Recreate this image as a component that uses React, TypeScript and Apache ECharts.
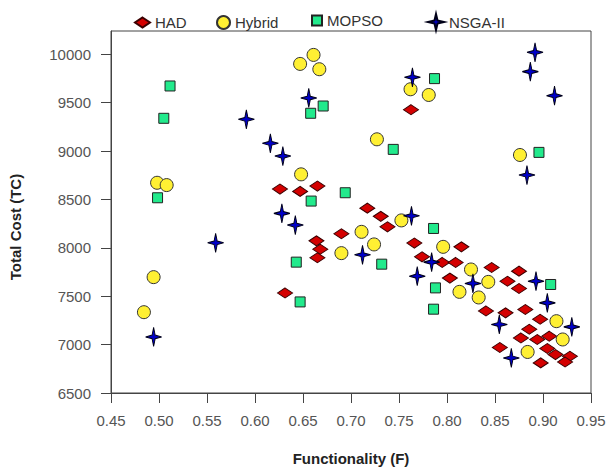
import React, { useEffect, useRef } from 'react';
import * as echarts from 'echarts';

const FONT = '"Liberation Sans", Arial, Helvetica, sans-serif';

const seriesNames = ['HAD', 'Hybrid', 'MOPSO', 'NSGA-II'];

// [Functionality F, Total Cost TC]
const hadPoints = [
  [0.7625, 9427], [0.626, 8607], [0.647, 8583], [0.665, 8638], [0.717, 8410],
  [0.731, 8325], [0.738, 8217], [0.664, 8072], [0.668, 7986], [0.665, 7897],
  [0.69, 8145], [0.6313, 7534], [0.766, 8049], [0.815, 8010], [0.774, 7907],
  [0.795, 7849], [0.809, 7849], [0.803, 7687], [0.8465, 7797], [0.875, 7759],
  [0.863, 7655], [0.875, 7580], [0.8406, 7348], [0.861, 7328], [0.8816, 7363],
  [0.897, 7262], [0.8857, 7159], [0.877, 7069], [0.894, 7053], [0.9065, 7087],
  [0.855, 6970], [0.9045, 6960], [0.913, 6897], [0.928, 6880], [0.923, 6821],
  [0.8976, 6811],
];

const hybridPoints = [
  [0.4843, 7335], [0.4944, 7697], [0.498, 8672], [0.508, 8648], [0.647, 9900],
  [0.661, 9993], [0.667, 9845], [0.648, 8759], [0.762, 9638], [0.781, 9579],
  [0.727, 9121], [0.876, 8959], [0.7525, 8283], [0.711, 8165], [0.724, 8035],
  [0.69, 7945], [0.796, 8010], [0.825, 7776], [0.843, 7648], [0.813, 7545],
  [0.833, 7487], [0.914, 7242], [0.9205, 7053], [0.884, 6924],
];

const mopsoPoints = [
  [0.5115, 9672], [0.505, 9338], [0.4985, 8517], [0.671, 9465], [0.658, 9390],
  [0.6585, 8483], [0.694, 8569], [0.787, 9748], [0.744, 9017], [0.8958, 8986],
  [0.786, 8200], [0.643, 7852], [0.732, 7831], [0.647, 7441], [0.788, 7586],
  [0.786, 7366], [0.908, 7621],
];

const nsgaPoints = [
  [0.4944, 7079], [0.559, 8052], [0.591, 9328], [0.616, 9080], [0.629, 8948],
  [0.656, 9548], [0.628, 8356], [0.642, 8235], [0.764, 9762], [0.8917, 10020],
  [0.8868, 9820], [0.912, 9572], [0.8833, 8752], [0.763, 8331], [0.712, 7928],
  [0.784, 7852], [0.769, 7707], [0.827, 7632], [0.8927, 7655], [0.9045, 7431],
  [0.8545, 7208], [0.93, 7183], [0.867, 6862],
];

const yTickValues = [6500, 7000, 7500, 8000, 8500, 9000, 9500, 10000];

const xTitle = 'Functionality (F)';
const yTitle = 'Total Cost (TC)';

const STAR = 'path://M10,0 L11.9,8.1 L20,10 L11.9,11.9 L10,20 L8.1,11.9 L0,10 L8.1,8.1 Z';

export default function App() {
  const ref = useRef<HTMLDivElement>(null);
  useEffect(() => {
    const chart = echarts.init(ref.current!, null, { renderer: 'svg' });
    const legendText = { fontSize: 15, color: '#333', fontFamily: FONT };
    chart.setOption({
      animation: false,
      backgroundColor: '#ffffff',
      textStyle: { fontFamily: FONT },
      legend: [
        { data: [seriesNames[0]], left: 129, top: 10, itemWidth: 15, itemHeight: 10, textStyle: legendText, selectedMode: false },
        { data: [seriesNames[1]], left: 211, top: 10, itemWidth: 13, itemHeight: 13, textStyle: legendText, selectedMode: false },
        { data: [seriesNames[2]], left: 306, top: 8, itemWidth: 10, itemHeight: 10, textStyle: legendText, selectedMode: false },
        { data: [seriesNames[3]], left: 422, top: 8, itemWidth: 16, itemHeight: 18, textStyle: legendText, selectedMode: false },
      ],
      grid: {
        left: 111, right: 20, top: 31, bottom: 76,
        show: true, borderColor: '#444', borderWidth: 1, backgroundColor: 'transparent',
      },
      xAxis: {
        type: 'value', min: 0.45, max: 0.95, interval: 0.05,
        axisLine: { show: true, lineStyle: { color: '#444', width: 1 } },
        axisTick: { show: true, inside: false, length: 10, lineStyle: { color: '#444' } },
        axisLabel: {
          margin: 20, fontSize: 15, color: '#555', fontFamily: FONT,
          formatter: (v: number) => v.toFixed(2),
        },
        splitLine: { show: false },
      },
      yAxis: {
        type: 'value', min: 6500, max: 10240, interval: 500,
        axisLine: { show: true, lineStyle: { color: '#444', width: 1 } },
        axisTick: { show: true, inside: false, length: 10, lineStyle: { color: '#444' }, customValues: yTickValues },
        axisLabel: {
          margin: 20, fontSize: 15, color: '#555', fontFamily: FONT,
          customValues: yTickValues,
          formatter: (v: number) => (v % 500 === 0 ? String(v) : ''),
        },
        splitLine: { show: false },
      },
      graphic: [
        {
          type: 'text', x: 351, y: 458,
          style: { text: xTitle, font: `bold 15px ${FONT}`, fill: '#222', align: 'center', verticalAlign: 'middle' },
        },
        {
          type: 'text', x: 15, y: 227, rotation: Math.PI / 2,
          style: { text: yTitle, font: `bold 15px ${FONT}`, fill: '#222', align: 'center', verticalAlign: 'middle' },
        },
      ],
      series: [
        {
          name: seriesNames[0], type: 'scatter', data: hadPoints,
          symbol: 'diamond', symbolSize: [15, 10],
          itemStyle: { color: '#d40000', borderColor: '#3a0000', borderWidth: 1, opacity: 1 },
        },
        {
          name: seriesNames[1], type: 'scatter', data: hybridPoints,
          symbol: 'circle', symbolSize: 13,
          itemStyle: { color: '#fff033', borderColor: '#333', borderWidth: 1, opacity: 1 },
        },
        {
          name: seriesNames[2], type: 'scatter', data: mopsoPoints,
          symbol: 'rect', symbolSize: 10,
          itemStyle: { color: '#22ea8c', borderColor: '#222', borderWidth: 1, opacity: 1 },
        },
        {
          name: seriesNames[3], type: 'scatter', data: nsgaPoints,
          symbol: STAR, symbolSize: [16, 19],
          itemStyle: { color: '#0000c8', borderColor: '#000018', borderWidth: 1, opacity: 1 },
        },
      ],
    });
    return () => chart.dispose();
  }, []);
  return <div ref={ref} style={{ position: 'absolute', left: 0, top: 0, width: 611, height: 469 }} />;
}
